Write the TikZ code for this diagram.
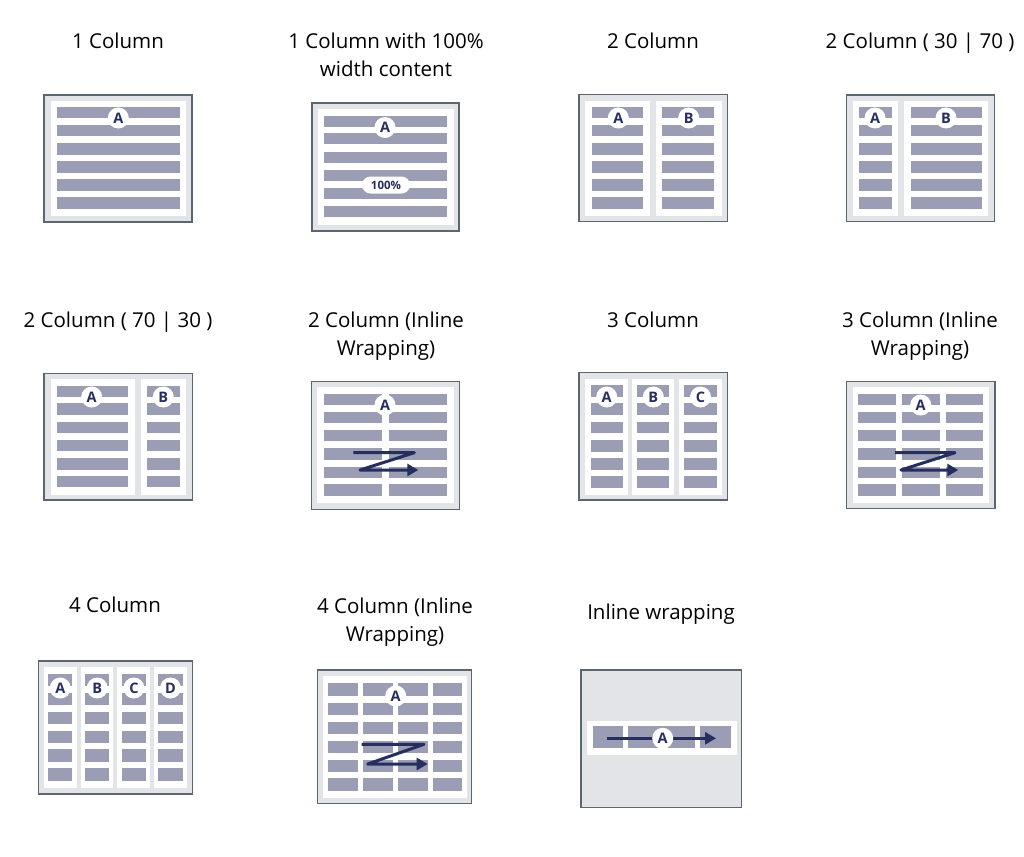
\documentclass[tikz,border=0pt]{standalone}
\usepackage{fontspec}
\setmainfont{Open Sans}
\usepackage{tikz}
\usetikzlibrary{arrows.meta}

\definecolor{panelgray}{HTML}{E2E4E7}
\definecolor{framegray}{HTML}{5C6670}
\definecolor{bargray}{HTML}{9A9DB3}
\definecolor{ink}{HTML}{262E5E}

\begin{document}
\begin{tikzpicture}[x=1pt,y=-1pt]
            \tikzstyle{frame}=[draw=framegray, fill=panelgray, line width=1.3pt]
            \tikzstyle{paper}=[fill=white]
            \tikzstyle{bar}=[fill=bargray]
            \tikzstyle{badge}=[circle, fill=white, inner sep=0pt, minimum size=21pt, text=ink, font=\fontsize{14.5}{14.5}\selectfont\bfseries]
            \tikzstyle{pill}=[rectangle, rounded corners=8.5pt, fill=white, inner sep=0pt, minimum width=48pt, minimum height=17pt, text=ink, font=\fontsize{11.5}{11.5}\selectfont\bfseries]
            \tikzstyle{title}=[align=center, anchor=base, font=\fontsize{20.5}{28}\selectfont]
            \tikzstyle{flow}=[draw=ink, line width=3pt, line join=round, -{Triangle[length=11pt,width=12pt]}]
            \useasboundingbox (0,0) rectangle (1024,856);
            % titles (base = last line)
            \node[title] (t1) at (118,49) {1 Column};
            \node[title] (t2) at (386,77) {1 Column with 100\%\\width content};
            \node[title] (t3) at (653,49) {2 Column};
            \node[title] (t4) at (920,49) {2 Column ( 30 | 70 )};
            \node[title] (t5) at (118,327) {2 Column ( 70 | 30 )};
            \node[title] (t6) at (386,355) {2 Column (Inline\\Wrapping)};
            \node[title] (t7) at (653,327) {3 Column};
            \node[title] (t8) at (920,355) {3 Column (Inline\\Wrapping)};
            \node[title] (t9) at (115,612) {4 Column};
            \node[title] (t10) at (395,641) {4 Column (Inline\\Wrapping)};
            \node[title] (t11) at (661,619) {Inline wrapping};
            % 1 column
            \draw[frame] (44,95) rectangle (192,222);
            \fill[paper] (50.5,101) rectangle (186,216);
            \foreach \y in {106.7,125,143.3,161.3,179.3,197.3}
                \fill[bar] (56.7,\y) rectangle ++(123.6,11.3);
            \node[badge] (oneA) at (118.3,118) {A};
            % 1 column, 100% width
            \draw[frame] (312,103) rectangle (459,231);
            \fill[paper] (317.5,109) rectangle (454,225);
            \foreach \y in {115.7,133.3,151.7,170,188.3,206}
                \fill[bar] (324.3,\y) rectangle ++(123,11);
            \node[badge] (fullA) at (385,127.5) {A};
            \node[pill] (full) at (386,185) {100\%};
            % 2 column
            \draw[frame] (579,94.5) rectangle (727.5,221.5);
            \foreach \l/\r in {585/650,656/721.7}
                \fill[paper] (\l,100.7) rectangle (\r,215.7);
            \foreach \y in {106.7,125,143.3,161.3,179.3,197.3}{
                \fill[bar] (591.7,\y) rectangle (643.3,\y+11.3);
                \fill[bar] (662.3,\y) rectangle (714.3,\y+11.3);
            }
            \node[badge] (twoA) at (618.3,118) {A};
            \node[badge] (twoB) at (688.7,118) {B};
            % 2 column 30|70
            \draw[frame] (846.7,95) rectangle (994.3,221.7);
            \foreach \l/\r in {852.7/898.3,904.3/988.3}
                \fill[paper] (\l,100.7) rectangle (\r,215.7);
            \foreach \y in {106.7,125,143.3,161.3,179.3,197.3}{
                \fill[bar] (859,\y) rectangle (891.7,\y+11.3);
                \fill[bar] (910.7,\y) rectangle (981.7,\y+11.3);
            }
            \node[badge] (narrowA) at (875,118) {A};
            \node[badge] (narrowB) at (946,118) {B};
            % 2 column 70|30
            \draw[frame] (44,373.3) rectangle (192.7,500);
            \foreach \l/\r in {50.7/135,141/186}
                \fill[paper] (\l,379) rectangle (\r,494.5);
            \foreach \y in {385.7,403.3,421.7,440,458.3,476}{
                \fill[bar] (56.7,\y) rectangle (128.3,\y+11.3);
                \fill[bar] (147.3,\y) rectangle (180,\y+11.3);
            }
            \node[badge] (wideA) at (91.7,397) {A};
            \node[badge] (wideB) at (163.3,397) {B};
            % 2 column inline
            \draw[frame] (311.7,381.7) rectangle (459.3,509.3);
            \fill[paper] (317.3,387.3) rectangle (454.3,503.3);
            \foreach \y in {394,411.7,430,448.3,466.7,484.3}{
                \fill[bar] (324.3,\y) rectangle (382.3,\y+11.3);
                \fill[bar] (389.3,\y) rectangle (447.3,\y+11.3);
            }
            \node[badge] (inlA) at (385,405) {A};
            \coordinate (z1) at (353.3,452.7);
            \coordinate (z2) at (414.3,452.7);
            \coordinate (z3) at (360,470);
            \coordinate (z4) at (418.3,470);
            \draw[flow] (z1) -- (z2) -- (z3) -- (z4);
            % 3 column
            \draw[frame] (579,372.3) rectangle (727.3,500);
            \foreach \l/\r in {585/627.7,631.7/674.3,679/721.7}
                \fill[paper] (\l,379) rectangle (\r,495);
            \foreach \y in {385,403.3,421.7,440,458.3,476}
                \foreach \l/\r in {590.7/622.7,637.3/669.3,684.3/716.7}
                    \fill[bar] (\l,\y) rectangle (\r,\y+11.7);
            \node[badge] (threeA) at (606.7,397) {A};
            \node[badge] (threeB) at (653.3,397) {B};
            \node[badge] (threeC) at (700.5,397) {C};
            % 3 column inline
            \draw[frame] (846.7,381.7) rectangle (995,508.3);
            \fill[paper] (852.7,387.3) rectangle (989.3,502.7);
            \foreach \y in {394,411.7,430,448.3,466.7,484.3}
                \foreach \l/\r in {858.3/896,901.7/940,945.7/983.3}
                    \fill[bar] (\l,\y) rectangle (\r,\y+11.3);
            \node[badge] (inlthreeA) at (920.7,405) {A};
            \coordinate (y1) at (895,452.7);
            \coordinate (y2) at (955,452.7);
            \coordinate (y3) at (901,470);
            \coordinate (y4) at (958.3,470);
            \draw[flow] (y1) -- (y2) -- (y3) -- (y4);
            % 4 column
            \draw[frame] (38.3,661) rectangle (192.7,794);
            \foreach \l/\r in {44/76.7,81/113.3,117.3/150,154/186.7}
                \fill[paper] (\l,666.7) rectangle (\r,788.3);
            \foreach \y in {674,693,711.7,730.7,749.3,768.3}
                \foreach \l/\r in {48.3/72.3,85/109.3,121.7/146,158.3/182.7}
                    \fill[bar] (\l,\y) rectangle (\r,\y+12.3);
            \node[badge] (fourA) at (60.3,688) {A};
            \node[badge] (fourB) at (97.2,688) {B};
            \node[badge] (fourC) at (133.9,688) {C};
            \node[badge] (fourD) at (170.5,688) {D};
            % 4 column inline
            \draw[frame] (317.7,670) rectangle (471.7,803.3);
            \fill[paper] (323.3,676) rectangle (466.7,797.7);
            \foreach \y in {683.3,702.7,721.7,740.7,760,778.3}
                \foreach \l/\r in {328.3/358.3,363.3/393.3,397.7/427.7,432.7/462.3}
                    \fill[bar] (\l,\y) rectangle (\r,\y+12.3);
            \node[badge] (inlfourA) at (395.7,696) {A};
            \coordinate (x1) at (361.7,744.3);
            \coordinate (x2) at (424,744.3);
            \coordinate (x3) at (367.7,764);
            \coordinate (x4) at (427.7,764);
            \draw[flow] (x1) -- (x2) -- (x3) -- (x4);
            % inline wrapping
            \draw[frame] (581,670) rectangle (741.7,807.7);
            \fill[paper] (586.7,720.7) rectangle (736.7,755);
            \foreach \l/\r in {592.7/623.3,628.3/695,700/731}
                \fill[bar] (\l,726) rectangle (\r,748.3);
            \coordinate (w1) at (606.7,738.3);
            \coordinate (w2) at (716,738.3);
            \draw[flow] (w1) -- (w2);
            \node[badge] (lineA) at (662.7,738.3) {A};
\end{tikzpicture}
\end{document}
